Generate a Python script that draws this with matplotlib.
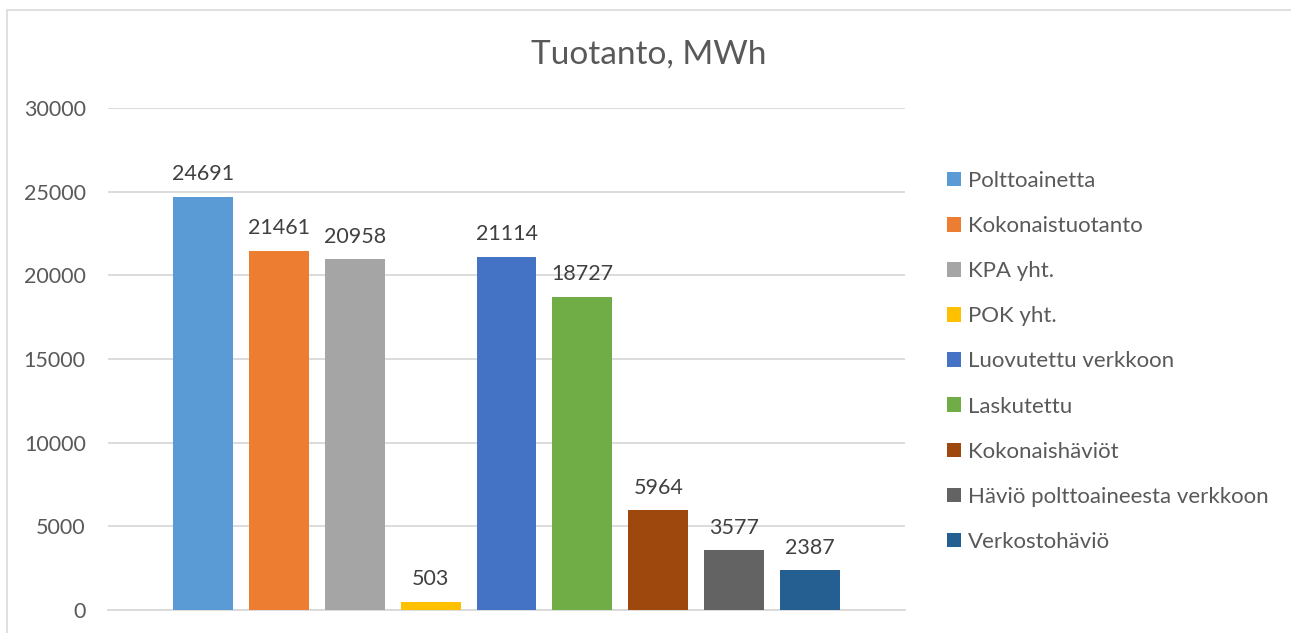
import matplotlib
matplotlib.use("Agg")
import matplotlib.pyplot as plt
from matplotlib.patches import Rectangle, Patch

plt.rcParams['font.family'] = ['Lato', 'DejaVu Sans']

categories = ["Polttoainetta", "Kokonaistuotanto", "KPA yht.", "POK yht.",
              "Luovutettu verkkoon", "Laskutettu", "Kokonaishäviöt",
              "Häviö polttoaineesta verkkoon", "Verkostohäviö"]
values = [24691, 21461, 20958, 503, 21114, 18727, 5964, 3577, 2387]
colors = ["#5B9BD5", "#ED7D31", "#A5A5A5", "#FFC000", "#4472C4",
          "#70AD47", "#9E480E", "#636363", "#255E91"]
yticks = [0, 5000, 10000, 15000, 20000, 25000, 30000]
title = "Tuotanto, MWh"

W, H = 1291, 633
fig = plt.figure(figsize=(W / 100, H / 100), dpi=100)
txt = "#595959"

# outer chart border
fig.patches.append(Rectangle((7 / W, -0.2), 2, (H - 10) / H + 0.2,
                             transform=fig.transFigure, fill=False,
                             edgecolor="#D9D9D9", linewidth=1.2))

ax = fig.add_axes([108 / W, 1 - 610 / H, (905 - 108) / W, (610 - 108) / H])
x = list(range(len(values)))
bars = ax.bar(x, values, width=0.79, color=colors, zorder=3)
for xi, v in zip(x, values):
    ax.annotate(f"{v}", (xi, v), xytext=(0, 9), textcoords="offset points",
                ha="center", va="bottom", fontsize=15.5, color="#404040")

ax.set_ylim(0, 30000)
ax.set_xlim(-1.25, len(values) - 1 + 1.25)
ax.set_yticks(yticks)
ax.set_yticklabels([str(t) for t in yticks], fontsize=15.5, color=txt)
ax.set_xticks([])
ax.tick_params(axis="y", length=0, pad=16)
ax.grid(axis="y", color="#D9D9D9", linewidth=1.3, zorder=0)
for s in ["left", "right", "top"]:
    ax.spines[s].set_visible(False)
ax.spines["bottom"].set_color("#D9D9D9")
ax.spines["bottom"].set_linewidth(1.3)

fig.text(649 / W, 1 - 55 / H, title, ha="center", va="center",
         fontsize=24, color=txt)

handles = [Patch(facecolor=c, edgecolor="none") for c in colors]
fig.legend(handles, categories, loc="upper left",
           bbox_to_anchor=(947 / W, 1 - 171 / H), frameon=False,
           fontsize=16, labelcolor=txt, handlelength=0.63, handleheight=0.63,
           handletextpad=0.3, labelspacing=1.13, borderpad=0, borderaxespad=0)

fig.savefig("out.png", dpi=100)
